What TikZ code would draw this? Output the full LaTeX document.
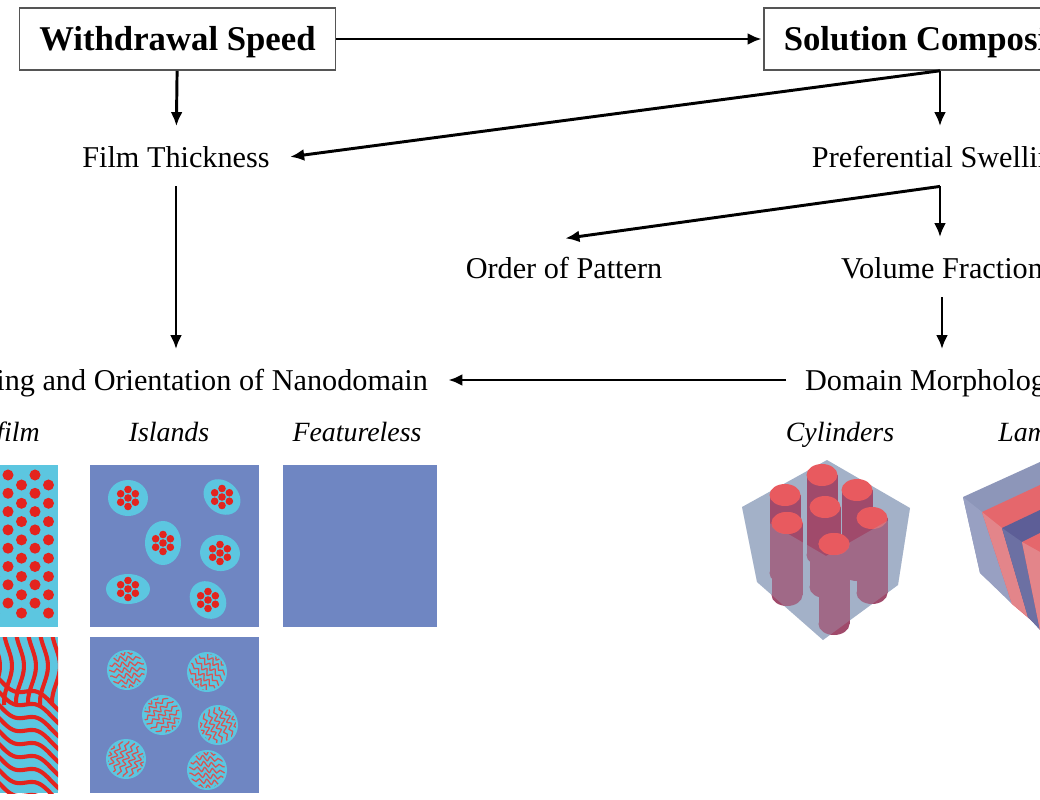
\documentclass[tikz,border=0pt]{standalone}
\usepackage{fontspec}
\setmainfont{Liberation Serif}
\usetikzlibrary{arrows,arrows.meta}
\definecolor{boxgray}{HTML}{555555}
\definecolor{panelblue}{HTML}{6F86C2}
\definecolor{filmcyan}{HTML}{5CC6E0}
\definecolor{dotred}{HTML}{E3241E}
\definecolor{squigred}{HTML}{D65556}
\definecolor{cubeblue}{HTML}{A3B1C8}
\definecolor{cylbody}{HTML}{A04A6B}
\definecolor{cyltop}{HTML}{E85A5F}
\definecolor{lamblue}{HTML}{8D96B9}
\definecolor{lamblueface}{HTML}{98A0C2}
\definecolor{lamred}{HTML}{E5676C}
\definecolor{lamredface}{HTML}{E3858A}
\definecolor{lamdark}{HTML}{5D5E97}
\definecolor{lamdarkface}{HTML}{6C70A3}

\begin{document}
\begin{tikzpicture}[x=0.025cm,y=-0.025cm,>={Latex[length=10pt,width=8.5pt]},
  main node/.style={font=\fontsize{21.5}{26}\selectfont,text height=14.7pt,text depth=0pt,inner sep=0.47cm},
  box node/.style={draw=boxgray,line width=1.1pt,font=\fontsize{24.7}{30}\selectfont\bfseries,
    text height=16.9pt,text depth=0pt,inner xsep=0.5cm,minimum height=1.55cm},
  head node/.style={font=\fontsize{19.8}{24}\selectfont\itshape,text height=13.5pt,text depth=0pt,inner sep=0pt},
  link/.style={->,line width=2.1pt,shorten >=1pt},
  stripe/.style={dotred,line width=2.9pt},
  squig/.style={squigred,line width=0.9pt}]

  \useasboundingbox (0,0) rectangle (1040,800);
  \clip (0,0) rectangle (1040,800);

  \node[box node] (1) at (177.5,39) {Withdrawal Speed};
  \node[box node,anchor=west] (2) at (763,39) {Solution Composition};
  \node[main node] (3) at (176,157) {Film Thickness};
  \node[main node] (4) at (940,157) {Preferential Swelling};
  \node[main node] (5) at (564,268) {Order of Pattern};
  \node[main node] (6) at (942,268) {Volume Fraction};
  \node[main node,anchor=east] (7) at (447,380) {Dewetting and Orientation of Nanodomain};
  \node[main node,anchor=west] (8) at (786,380) {Domain Morphology};

  \node[head node,anchor=east] (9) at (40,432) {Thin film};
  \node[head node] (10) at (169,432) {Islands};
  \node[head node] (11) at (357,432) {Featureless};
  \node[head node] (12) at (840,432) {Cylinders};
  \node[head node,anchor=west] (13) at (998,432) {Lamellae};

  \path[link]
    (1) edge (2)
        edge (3)
    (4 |- 2.south) edge (3.east)
                   edge (4)
    (4.south) edge (5.north)
              edge (4 |- 6.north)
    (6) edge (6 |- 8.north)
    (3) edge (3 |- 7.north)
    (8) edge (7);

  % thin film
  \fill[filmcyan] (-111,465) rectangle (58,627);
  \foreach \k in {-4,...,1} \foreach \j in {0,...,7} {
    \fill[dotred] ({8+27*\k},{475+18.3*\j}) circle[radius=0.1375cm];
    \fill[dotred] ({21.5+27*\k},{485+18.3*\j}) circle[radius=0.1375cm];
  }
  \begin{scope}
    \clip (-111,637) rectangle (58,793);
    \fill[filmcyan] (-111,637) rectangle (58,793);
    \foreach \s in {-4,8,20,32,44,56}
      \draw[stripe] plot[smooth,domain=630:705,samples=12] ({\s+4*sin(5*\x)},\x);
    \foreach \s in {0,...,9}
      \draw[stripe] plot[smooth,domain=-10:65,samples=16] (\x,{680+13*\s+0.45*\x+5*sin(7*\x)});
  \end{scope}

  % islands
  \fill[panelblue] (90,465) rectangle (259,627);
  \foreach \cx/\cy/\rx/\ry/\r in {128/498/20/18/0,222/497/20/16/-40,163/543/18/22/0,
      220/553/20/18/-10,128/589/22/15/0,208/600/20/17/-50} {
    \fill[filmcyan,rotate around={\r:(\cx,\cy)}] (\cx,\cy) ellipse[x radius=\rx*0.025cm,y radius=\ry*0.025cm];
    \fill[dotred] (\cx,\cy) circle[radius=0.095cm];
    \foreach \a in {30,90,...,330} \fill[dotred] (\cx,\cy) ++(\a:8.5) circle[radius=0.095cm];
  }
  \fill[panelblue] (90,637) rectangle (259,793);
  \foreach \cx/\cy/\r in {127/670/20,207/672/-30,162/715/50,218/725/-60,126/759/80,207/770/10} {
    \fill[filmcyan] (\cx,\cy) circle[radius=0.5cm];
    \begin{scope}
      \clip (\cx,\cy) circle[radius=0.45cm];
      \foreach \j in {-3,...,3}
        \draw[squig,rotate around={\r:(\cx,\cy)}] plot[smooth,domain=-20:20,samples=12]
          ({\cx+\x},{\cy+6*\j+2.5*sin(45*\x)+0.3*\x});
    \end{scope}
  }

  % featureless
  \fill[panelblue] (283,465) rectangle (437,627);

  % cylinders
  \fill[cubeblue] (827,460) -- (742,507) -- (757,582) -- (823,640) -- (898,585) -- (910,508) -- cycle;
  \foreach \cx/\cy/\h in {822/475/80,857/490/80,785/495/78,825/507/80,872/518/75,787/523/72,834/544/80} {
    \fill[cylbody] (\cx-15.5,\cy) rectangle (\cx+15.5,\cy+\h);
    \fill[cylbody] (\cx,\cy+\h) ellipse[x radius=0.3875cm,y radius=0.275cm];
    \fill[cyltop] (\cx,\cy) ellipse[x radius=0.3875cm,y radius=0.275cm];
  }
  \fill[cubeblue,opacity=0.3] (742,507) -- (826,556) -- (910,508) -- (898,585) -- (823,640) -- (757,582) -- cycle;
  \foreach \cx/\cy in {787/523,834/544}
    \fill[cyltop] (\cx,\cy) ellipse[x radius=0.3875cm,y radius=0.275cm];

  % lamellae
  \fill[lamblue] (963,497) -- (1040,462) -- (1040,628) -- (980,573) -- cycle;
  \fill[lamblueface] (963,497) -- (982,512) -- (1012,604) -- (980,573) -- cycle;
  \fill[lamred] (982,512) -- (1040,485) -- (1040,628) -- (1012,604) -- cycle;
  \fill[lamredface] (982,512) -- (1002,528) -- (1028,617) -- (1012,604) -- cycle;
  \fill[lamdark] (1002,528) -- (1040,510) -- (1040,628) -- (1028,617) -- cycle;
  \fill[lamdarkface] (1002,528) -- (1022,542) -- (1040,630) -- (1028,617) -- cycle;
  \fill[lamred] (1022,542) -- (1040,533) -- (1040,630) -- cycle;
  \fill[lamredface] (1022,542) -- (1040,552) -- (1040,630) -- cycle;

\end{tikzpicture}
\end{document}
